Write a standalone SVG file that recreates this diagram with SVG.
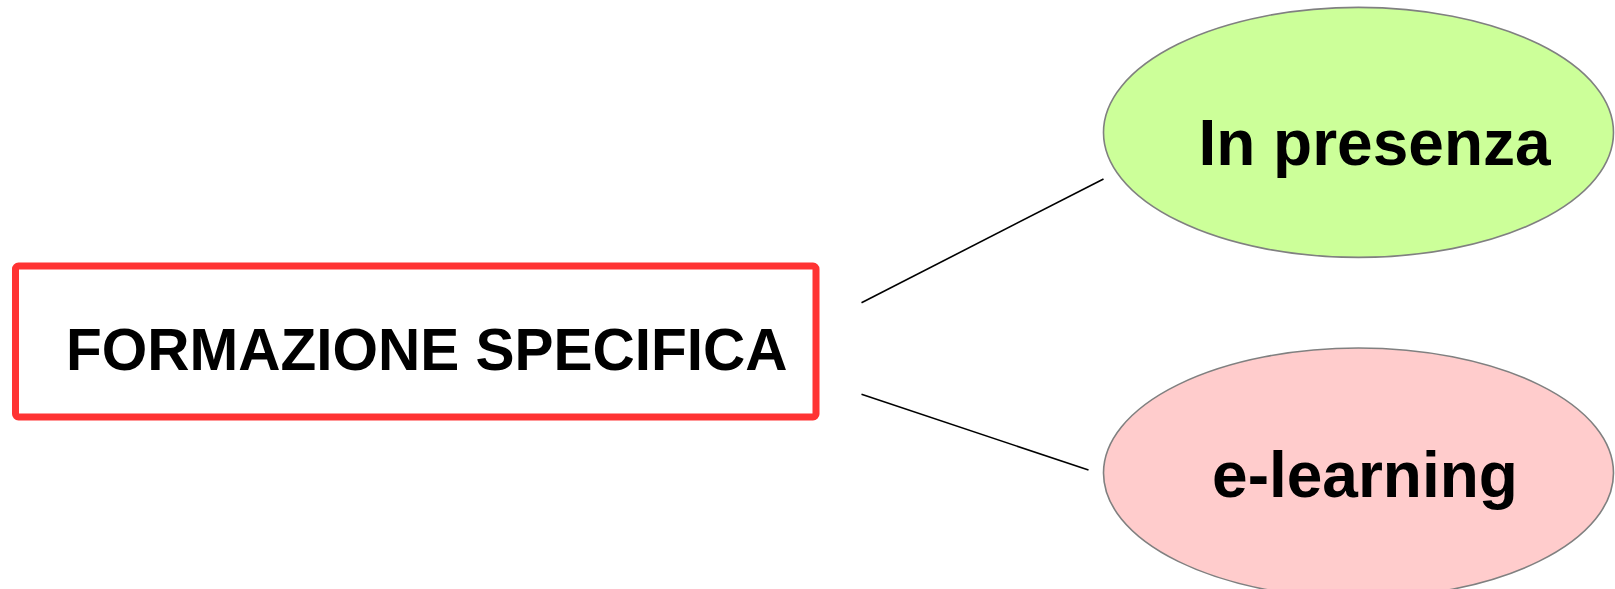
<svg xmlns="http://www.w3.org/2000/svg" width="1615" height="589" viewBox="0 0 1615 589">
  <style>
    .label { font-family: "Liberation Sans", Arial, sans-serif; font-weight: bold; fill: #000000; }
    .bubble { stroke: #808080; stroke-width: 1.6; }
    .link { stroke: #000000; stroke-width: 1.6; fill: none; }
  </style>
  <rect width="1615" height="589" fill="#ffffff"/>

  <!-- connectors -->
  <g id="connectors">
    <line class="link" x1="861.5" y1="302.7" x2="1103.5" y2="179"/>
    <line class="link" x1="861.5" y1="394.3" x2="1088.5" y2="470"/>
  </g>

  <!-- root node -->
  <g id="node-formazione">
    <rect x="15.5" y="266" width="800.5" height="151" rx="3" ry="3" fill="#ffffff" stroke="#ff3333" stroke-width="7"/>
    <text class="label" x="66" y="370" font-size="58.5">FORMAZIONE SPECIFICA</text>
  </g>

  <!-- classroom branch -->
  <g id="node-presenza">
    <ellipse class="bubble" cx="1358.5" cy="132.4" rx="255" ry="125" fill="#ccff99"/>
    <text class="label" x="1374.5" y="165" font-size="64" text-anchor="middle">In presenza</text>
  </g>

  <!-- online branch -->
  <g id="node-elearning">
    <ellipse class="bubble" cx="1358.5" cy="473" rx="255" ry="125" fill="#ffcccc"/>
    <text class="label" x="1365" y="497" font-size="64" text-anchor="middle">e-learning</text>
  </g>
</svg>
